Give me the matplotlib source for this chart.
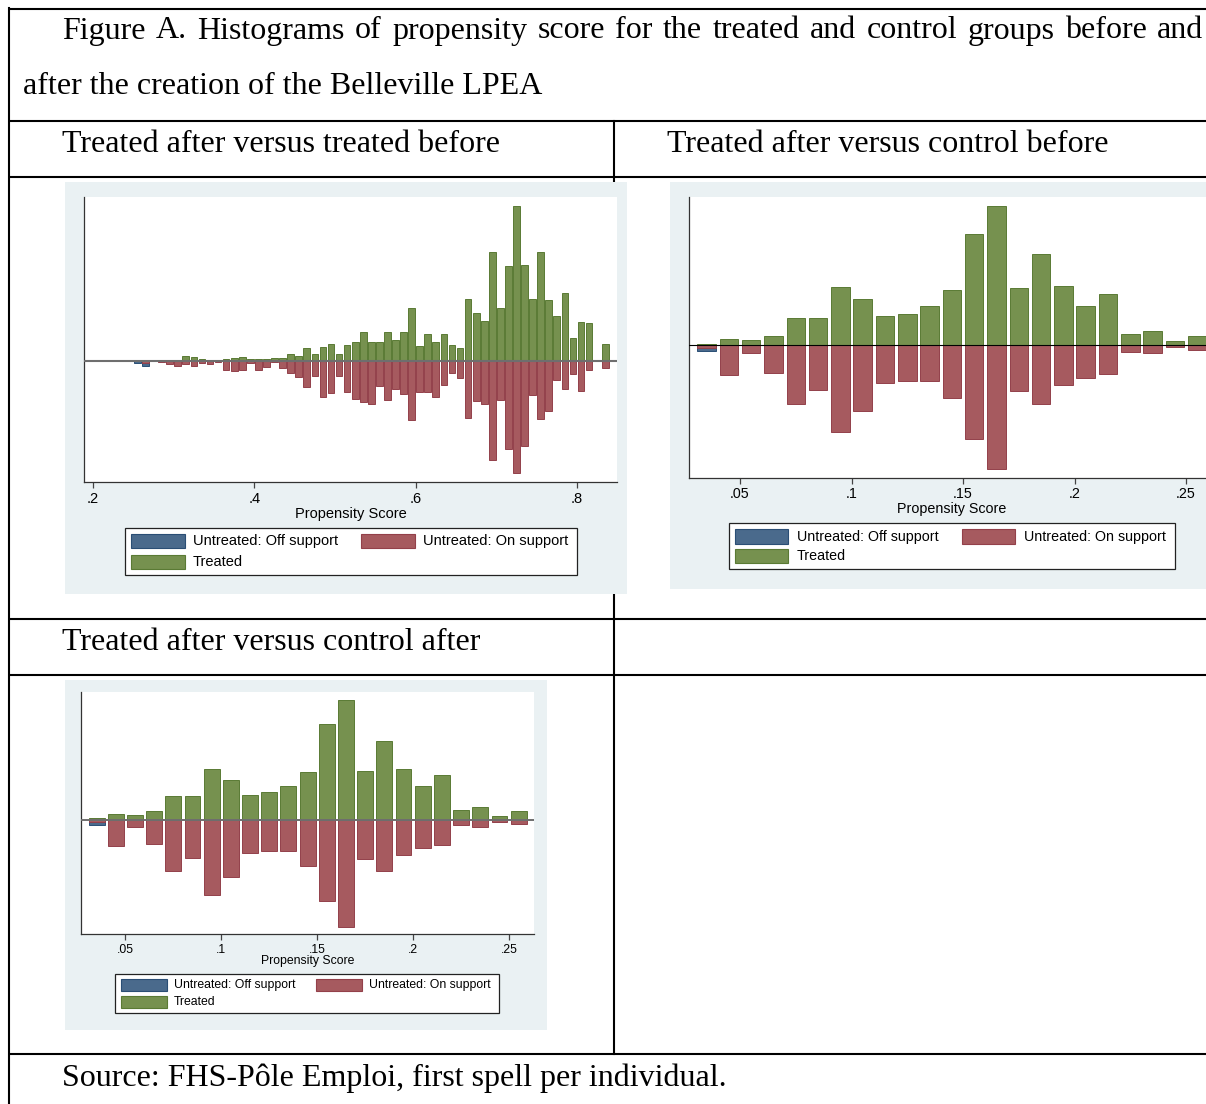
import matplotlib
matplotlib.use("Agg")
import matplotlib.pyplot as plt
from matplotlib.patches import Rectangle

W, H = 1206, 1104

# texts
TITLE_1 = "Figure A. Histograms of propensity score for the treated and control groups before and"
TITLE_2 = "after the creation of the Belleville LPEA"
HEAD_1 = "Treated after versus treated before"
HEAD_2 = "Treated after versus control before"
HEAD_3 = "Treated after versus control after"
SOURCE = "Source: FHS-Pôle Emploi, first spell per individual."
LEGEND_LABELS = ["Untreated: Off support", "Untreated: On support", "Treated"]
X_LABEL = "Propensity Score"

# panel 1: treated after vs treated before (bin centers, width .01)
p1_bins = [0.255, 0.265, 0.275, 0.285, 0.295, 0.305, 0.315, 0.325, 0.335, 0.345,
           0.355, 0.365, 0.375, 0.385, 0.395, 0.405, 0.415, 0.425, 0.435, 0.445,
           0.455, 0.465, 0.475, 0.485, 0.495, 0.505, 0.515, 0.525, 0.535, 0.545,
           0.555, 0.565, 0.575, 0.585, 0.595, 0.605, 0.615, 0.625, 0.635, 0.645,
           0.655, 0.665, 0.675, 0.685, 0.695, 0.705, 0.715, 0.725, 0.735, 0.745,
           0.755, 0.765, 0.775, 0.785, 0.795, 0.805, 0.815, 0.825, 0.835]
p1_treated = [0, 1, 0, 0, 0, 1, 4.7, 3.3, 1.7, 0.7,
              0.7, 1.3, 2.3, 3.3, 1.7, 1.3, 1.3, 2.3, 2.3, 6.7,
              4.7, 12.7, 6.3, 14, 16.3, 6.7, 15.3, 19, 29, 18.3,
              19, 28.3, 21, 28.3, 53, 14.7, 26.3, 18.3, 26.3, 15.3,
              12.7, 61.3, 47.7, 39.7, 108.3, 52.3, 94.3, 155, 95.3, 61.3,
              108.7, 60.3, 44.7, 67.3, 22.7, 38.3, 37.3, 0, 16.3]
p1_on = [0, 2, 0, 1.7, 3.7, 5, 3.7, 5, 2.3, 3.7,
         1.7, 9.3, 10.3, 9.3, 2.7, 9.3, 6.7, 1.7, 7.7, 12.7,
         16.7, 26.7, 15.3, 36.3, 32.7, 15.3, 31.5, 38, 41.7, 43.3,
         25.3, 39.3, 28.7, 33, 59.3, 31.3, 31.3, 36.3, 24.3, 12.7,
         17.7, 57, 40, 43.3, 99.3, 39.3, 88, 112.3, 85, 34.3,
         58.3, 50.7, 19.3, 28, 13.7, 30.3, 9.3, 0, 7.7]
p1_off = [2.3, 5] + [0] * 57
p1_ticks = [0.2, 0.4, 0.6, 0.8]
p1_ticklabels = [".2", ".4", ".6", ".8"]

# panels 2 and 3 share the bins
p23_bins = [0.035, 0.045, 0.055, 0.065, 0.075, 0.085, 0.095, 0.105, 0.115, 0.125,
            0.135, 0.145, 0.155, 0.165, 0.175, 0.185, 0.195, 0.205, 0.215, 0.225,
            0.235, 0.245, 0.255]
p2_treated = [5, 19, 15, 29, 82, 83, 176, 140, 87, 95, 117, 167, 335, 419, 171, 275,
              179, 118, 155, 33, 44, 13, 29]
p2_on = [8, 88, 24, 82, 176, 133, 259, 198, 114, 106, 107, 159, 280, 372, 136, 176,
         120, 97, 85, 19, 23, 5, 14]
p2_off = [16] + [0] * 22
p3_treated = [6, 18, 15, 27, 72, 72, 153, 122, 77, 84, 102, 145, 290, 362, 149, 238,
              155, 103, 137, 30, 40, 12, 27]
p3_on = [5, 76, 20, 71, 152, 114, 223, 170, 98, 91, 91, 137, 241, 319, 116, 152,
         103, 83, 74, 15, 20, 5, 12]
p3_off = [13] + [0] * 22
p23_ticks = [0.05, 0.1, 0.15, 0.2, 0.25]
p23_ticklabels = [".05", ".1", ".15", ".2", ".25"]

GREEN, GREEN_E = "#76914F", "#5A7A34"
RED, RED_E = "#A65A5F", "#93404A"
BLUE, BLUE_E = "#4A6A8C", "#2A4E75"
REGION = "#EAF1F3"
SERIF = "Liberation Serif"
SANS = "Liberation Sans"


def px_box(x0, y0, x1, y1):
    return [x0 / W, 1 - y1 / H, (x1 - x0) / W, (y1 - y0) / H]


fig = plt.figure(figsize=(W / 100, H / 100), dpi=100)
bg = fig.add_axes([0, 0, 1, 1])
bg.set_xlim(0, W)
bg.set_ylim(H, 0)
bg.axis("off")

# table grid
lw_tab = 1.5
for y in [9, 121, 177, 619, 675, 1054]:
    bg.plot([8, W], [y, y], color="black", lw=lw_tab, zorder=2, solid_capstyle="butt")
bg.plot([9, 9], [8, H], color="black", lw=lw_tab, zorder=2)
bg.plot([614, 614], [121, 1054], color="black", lw=lw_tab, zorder=2)

tfs = 23


def justify(words, x0, x1, y):
    texts = [bg.text(0, y, w, fontsize=tfs, family=SERIF, va="baseline", zorder=5)
             for w in words]
    r = fig.canvas.get_renderer()
    widths = [t.get_window_extent(r).width for t in texts]
    gap = (x1 - x0 - sum(widths)) / (len(words) - 1)
    x = x0
    for t, w in zip(texts, widths):
        t.set_x(x)
        x += w + gap


justify(TITLE_1.split(), 62, 1203, 38.5)
bg.text(23, 93.5, TITLE_2, fontsize=tfs, family=SERIF, va="baseline", zorder=5)
bg.text(62, 152, HEAD_1, fontsize=tfs, family=SERIF, va="baseline", zorder=5)
bg.text(667, 152, HEAD_2, fontsize=tfs, family=SERIF, va="baseline", zorder=5)
bg.text(62, 650, HEAD_3, fontsize=tfs, family=SERIF, va="baseline", zorder=5)
bg.text(62, 1086, SOURCE, fontsize=tfs, family=SERIF, va="baseline", zorder=5)


def panel(region, plot, xlim, ylim, bins, treated, on, off, ticks, ticklabels,
          fs, zero_c, zero_lw, pad, lpad, leg):
    rx0, ry0, rx1, ry1 = region
    bg.add_patch(Rectangle((rx0, ry0), rx1 - rx0, ry1 - ry0, color=REGION, lw=0, zorder=3))
    ax = fig.add_axes(px_box(*plot))
    ax.set_facecolor("white")
    bw = 0.0083
    ax.bar(bins, [-v for v in off], width=bw, color=BLUE, edgecolor=BLUE_E, lw=0.7, zorder=2)
    ax.bar(bins, [-v for v in on], width=bw, color=RED, edgecolor=RED_E, lw=0.7, zorder=3)
    ax.bar(bins, treated, width=bw, color=GREEN, edgecolor=GREEN_E, lw=0.7, zorder=3)
    ax.axhline(0, color=zero_c, lw=zero_lw, zorder=4)
    ax.set_xlim(*xlim)
    ax.set_ylim(*ylim)
    ax.set_yticks([])
    ax.set_xticks(ticks)
    ax.set_xticklabels(ticklabels, fontsize=fs, family=SANS)
    ax.tick_params(axis="x", direction="out", length=4.3, width=0.9, color="#444444", pad=pad)
    ax.set_xlabel(X_LABEL, fontsize=fs, family=SANS, labelpad=lpad)
    for s in ["top", "right"]:
        ax.spines[s].set_visible(False)
    for s in ["left", "bottom"]:
        ax.spines[s].set_color("#333333")
        ax.spines[s].set_linewidth(0.9)

    # legend box
    bx0, by0, bx1, by1, c1, c2, sw, sh, r1, r2, toff = leg
    bg.add_patch(Rectangle((bx0, by0), bx1 - bx0, by1 - by0, facecolor="white",
                           edgecolor="#222222", lw=0.9, zorder=4))
    items = [(c1, r1, BLUE, BLUE_E, LEGEND_LABELS[0]),
             (c2, r1, RED, RED_E, LEGEND_LABELS[1]),
             (c1, r2, GREEN, GREEN_E, LEGEND_LABELS[2])]
    for x, cy, fc, ec, lab in items:
        bg.add_patch(Rectangle((x, cy - sh / 2), sw, sh, facecolor=fc, edgecolor=ec,
                               lw=0.8, zorder=5))
        bg.text(x + toff, cy, lab, fontsize=fs, family=SANS, va="center", zorder=6)
    return ax


panel((65, 182, 627, 594), (84, 197, 617, 482), (0.1888, 0.8496), (-121.3, 163.7),
      p1_bins, p1_treated, p1_on, p1_off, p1_ticks, p1_ticklabels,
      10.5, "#6E6E6E", 1.5, 2.7, 1.2,
      (125, 528, 577, 575, 131, 361, 54, 14, 541, 561.5, 62))

panel((670, 182, 1225, 589), (689, 197, 1215, 478), (0.0271, 0.263), (-398, 445),
      p23_bins, p2_treated, p2_on, p2_off, p23_ticks, p23_ticklabels,
      10.3, "black", 0.8, 2.1, 0.8,
      (729, 523, 1175, 569, 735, 962, 53, 14.5, 536.5, 556, 62))

panel((65, 680, 547, 1030), (81, 692, 534, 934), (0.0269, 0.263), (-341, 385),
      p23_bins, p3_treated, p3_on, p3_off, p23_ticks, p23_ticklabels,
      8.8, "#6E6E6E", 1.4, 3.0, -0.8,
      (115, 974, 499, 1013, 121, 316, 46, 12, 985, 1002, 53))

fig.savefig("out.png", dpi=100, facecolor="white")
